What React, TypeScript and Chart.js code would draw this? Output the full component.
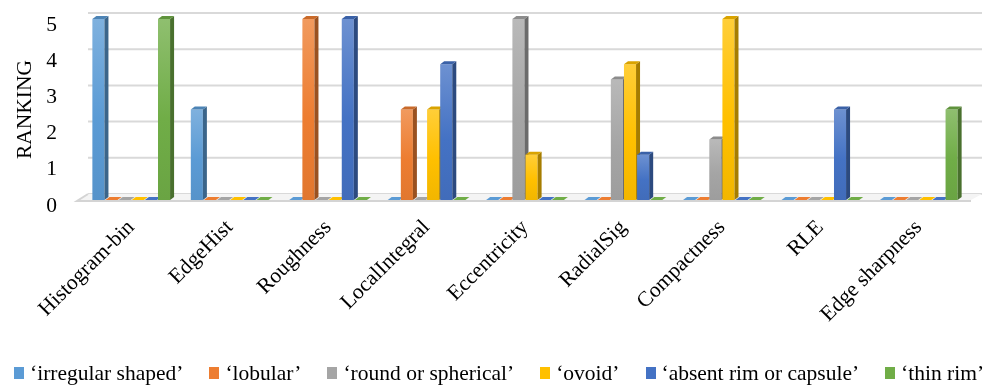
import React, { useEffect, useRef } from "react";
import { Chart, registerables } from "chart.js";

Chart.register(...registerables);

// Feature names on the horizontal axis
const categories = [
  "Histogram-bin",
  "EdgeHist",
  "Roughness",
  "LocalIntegral",
  "Eccentricity",
  "RadialSig",
  "Compactness",
  "RLE",
  "Edge sharpness",
];

// Ranking per feature for each nodule attribute
const irregularShaped = [5, 2.5, 0, 0, 0, 0, 0, 0, 0];
const lobular = [0, 0, 5, 2.5, 0, 0, 0, 0, 0];
const roundOrSpherical = [0, 0, 0, 0, 5, 3.33, 1.67, 0, 0];
const ovoid = [0, 0, 0, 2.5, 1.25, 3.75, 5, 0, 0];
const absentRim = [0, 0, 5, 3.75, 0, 1.25, 0, 2.5, 0];
const thinRim = [5, 0, 0, 0, 0, 0, 0, 0, 2.5];

const seriesNames = [
  "‘irregular shaped’",
  "‘lobular’",
  "‘round or spherical’",
  "‘ovoid’",
  "‘absent rim or capsule’",
  "‘thin rim’",
];
const seriesValues = [irregularShaped, lobular, roundOrSpherical, ovoid, absentRim, thinRim];
const seriesColors = ["#5B9BD5", "#ED7D31", "#A5A5A5", "#FFC000", "#4472C4", "#70AD47"];

const yTicks = [0, 1, 2, 3, 4, 5];

const FONT = "'Liberation Serif', 'Times New Roman', serif";
const FONT_SIZE = 21.5;

// bar depth used for the side and top faces
const DEPTH_X = 4;
const DEPTH_Y = 3;
// offset of the back wall (gridlines) behind the bars
const WALL_X = 10;
const WALL_Y = 6;

function hexToRgb(hex: string) {
  const n = parseInt(hex.slice(1), 16);
  return [(n >> 16) & 255, (n >> 8) & 255, n & 255];
}
function shade(hex: string, f: number) {
  const [r, g, b] = hexToRgb(hex);
  const m = (c: number) =>
    Math.round(f >= 0 ? c + (255 - c) * f : c * (1 + f));
  return `rgb(${m(r)},${m(g)},${m(b)})`;
}

// back wall gridlines and floor
const wallPlugin = {
  id: "wall3d",
  beforeDatasetsDraw(chart: any) {
    const { ctx, chartArea } = chart;
    const y = chart.scales.y;
    const base = y.getPixelForValue(0);
    ctx.save();
    ctx.strokeStyle = "#d9d9d9";
    ctx.lineWidth = 2;
    yTicks.forEach((t) => {
      const py = y.getPixelForValue(t) - WALL_Y;
      ctx.beginPath();
      ctx.moveTo(chartArea.left + 6, py);
      ctx.lineTo(chartArea.right + WALL_X + 4, py);
      ctx.stroke();
    });
    // floor
    ctx.beginPath();
    ctx.moveTo(chartArea.left - 5, base);
    ctx.lineTo(chartArea.left + 6, base - WALL_Y);
    ctx.lineTo(chartArea.right + WALL_X + 4, base - WALL_Y);
    ctx.lineTo(chartArea.right + 3, base);
    ctx.closePath();
    ctx.fillStyle = "#f4f4f4";
    ctx.fill();
    ctx.strokeStyle = "#d4d4d4";
    ctx.lineWidth = 2;
    ctx.beginPath();
    ctx.moveTo(chartArea.left + 6, base - WALL_Y);
    ctx.lineTo(chartArea.left - 5, base + 1);
    ctx.lineTo(chartArea.right + 3, base + 1);
    ctx.stroke();
    ctx.restore();
  },
};

// prism-shaped bars: front, right side and top faces, left to right
const barPlugin = {
  id: "bar3d",
  afterDatasetsDraw(chart: any) {
    const { ctx } = chart;
    const metas = chart.data.datasets.map((_: any, i: number) => chart.getDatasetMeta(i));
    ctx.save();
    for (let c = 0; c < categories.length; c++) {
      metas.forEach((meta: any, i: number) => {
        const el = meta.data[c];
        if (!el) return;
        const { x, y, base, width } = el.getProps(["x", "y", "base", "width"], true);
        const color = seriesColors[i];
        const l = x - width / 2;
        const r = x + width / 2;
        // front
        if (base - y > 0.5) {
          const g = ctx.createLinearGradient(0, y, 0, base);
          g.addColorStop(0, shade(color, 0.22));
          g.addColorStop(0.55, color);
          g.addColorStop(1, shade(color, -0.05));
          ctx.fillStyle = g;
          ctx.fillRect(l, y, width, base - y);
          // side
          ctx.beginPath();
          ctx.moveTo(r, y);
          ctx.lineTo(r + DEPTH_X, y - DEPTH_Y);
          ctx.lineTo(r + DEPTH_X, base - DEPTH_Y);
          ctx.lineTo(r, base);
          ctx.closePath();
          ctx.fillStyle = shade(color, -0.35);
          ctx.fill();
        }
        // top
        ctx.beginPath();
        ctx.moveTo(l, y);
        ctx.lineTo(l + DEPTH_X, y - DEPTH_Y);
        ctx.lineTo(r + DEPTH_X, y - DEPTH_Y);
        ctx.lineTo(r, y);
        ctx.closePath();
        ctx.fillStyle = base - y > 0.5 ? shade(color, -0.15) : color;
        ctx.fill();
      });
    }
    ctx.restore();
  },
};

export default function App() {
  const canvasRef = useRef<HTMLCanvasElement | null>(null);

  useEffect(() => {
    document.body.style.margin = "0";
    const canvas = canvasRef.current;
    if (!canvas) return;
    const chart = new Chart(canvas, {
      type: "bar",
      data: {
        labels: categories,
        datasets: seriesValues.map((vals, i) => ({
          label: seriesNames[i],
          data: vals,
          backgroundColor: "rgba(0,0,0,0)",
          borderWidth: 0,
          categoryPercentage: 0.8,
          barPercentage: 0.92,
        })),
      },
      options: {
        responsive: false,
        animation: false,
        events: [],
        layout: { padding: { top: 19, right: 30, bottom: 0, left: 0 } },
        plugins: {
          legend: { display: false },
          tooltip: { enabled: false },
        },
        scales: {
          x: {
            grid: { display: false, drawTicks: false },
            border: { display: false },
            ticks: {
              autoSkip: false,
              minRotation: 45,
              maxRotation: 45,
              padding: 15,
              color: "#000",
              font: { family: FONT, size: FONT_SIZE },
            },
            afterFit: (scale: any) => {
              scale.height = 188;
              scale.paddingTop = 0;
              scale.paddingBottom = 0;
            },
          },
          y: {
            min: 0,
            max: 5,
            grid: { display: false, drawTicks: false },
            border: { display: false },
            ticks: {
              stepSize: 1,
              padding: 25,
              labelOffset: 6,
              color: "#000",
              font: { family: FONT, size: FONT_SIZE },
            },
            title: {
              display: true,
              text: "RANKING",
              color: "#000",
              padding: { top: 12, bottom: 0 },
              font: { family: FONT, size: FONT_SIZE },
            },
            afterFit: (scale: any) => {
              scale.width = 82;
              scale.paddingTop = 0;
              scale.paddingBottom = 0;
            },
          },
        },
      },
      plugins: [wallPlugin, barPlugin],
    });
    return () => chart.destroy();
  }, []);

  return (
    <div style={{ position: "relative", width: 998, height: 388, background: "#fff" }}>
      <canvas ref={canvasRef} width={998} height={388} style={{ display: "block" }} />
      <div
        style={{
          position: "absolute",
          left: 14,
          top: 360,
          display: "flex",
          alignItems: "center",
          gap: 26,
          fontFamily: FONT,
          fontSize: 21.5,
          lineHeight: "26px",
          color: "#000",
          whiteSpace: "nowrap",
        }}
      >
        {seriesNames.map((name, i) => (
          <span key={name} style={{ display: "flex", alignItems: "center" }}>
            <span
              style={{
                display: "inline-block",
                width: 10,
                height: 12,
                background: seriesColors[i],
                marginRight: 6,
              }}
            />
            {name}
          </span>
        ))}
      </div>
    </div>
  );
}
